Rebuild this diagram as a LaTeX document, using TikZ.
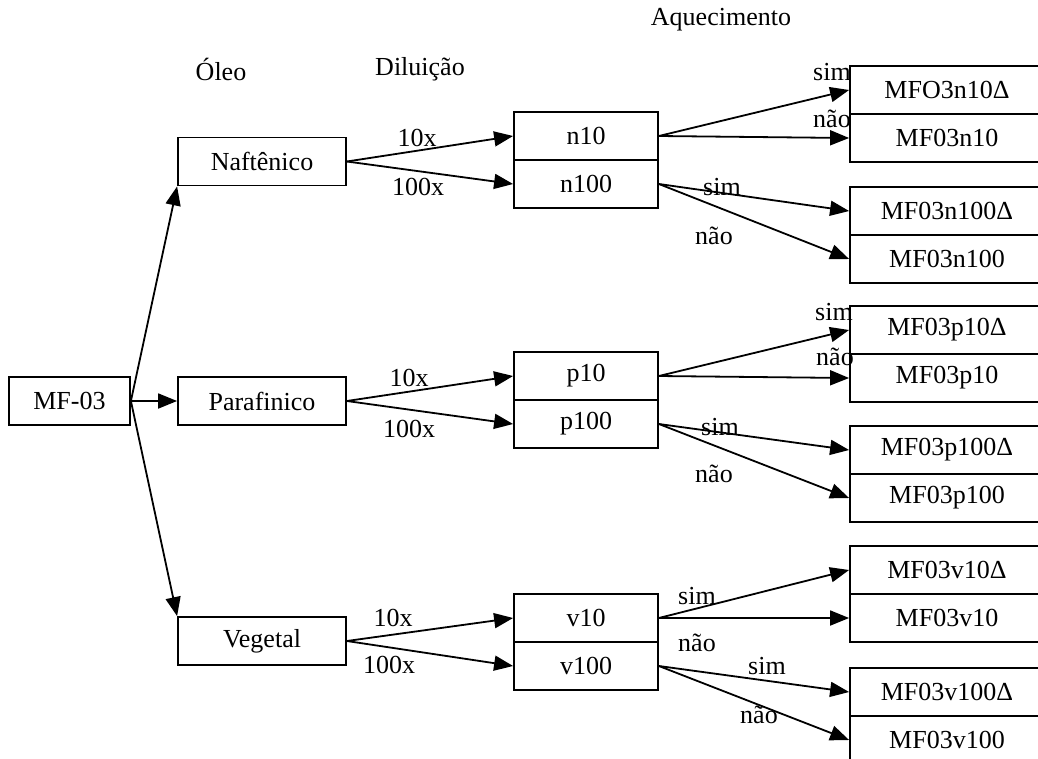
\documentclass[tikz,border=0pt]{standalone}
\usepackage{fontspec}
\setmainfont{Liberation Serif}
\usetikzlibrary{arrows.meta}
\begin{document}
\begin{tikzpicture}[x=1pt,y=-1pt,
  every node/.style={font=\fontsize{26}{30}\selectfont},
  box/.style={draw, line width=1.8pt, inner sep=0pt, minimum height=48pt},
  lbox/.style={box, minimum width=168pt},
  mbox/.style={box, minimum width=144pt},
  rbox/.style={box, minimum width=194pt},
  lbl/.style={inner sep=0pt},
  arr/.style={line width=1.8pt, -{Triangle[length=19pt,width=15pt]}}]
\useasboundingbox (0,0) rectangle (1038,758);
\clip (0,0) rectangle (1038,758);
% header labels
\node[lbl] (hOleo) at (221,69) {Óleo};
\node[lbl] (hDil) at (420,69) {Diluição};
\node[lbl] (hAq) at (721,20) {Aquecimento};
% left column
\node[box, minimum width=121pt] (mf) at (69.5,401) {MF-03};
\node[lbox] (naf) at (262,161.5) {Naftênico};
\node[lbox] (par) at (262,401) {Parafinico};
\node[lbox] (veg) at (262,641) {Vegetal};
% middle column
\node[mbox] (n10) at (586,136) {n10};
\node[mbox] (n100) at (586,184) {n100};
\node[mbox] (p10) at (586,376) {p10};
\node[mbox] (p100) at (586,424) {p100};
\node[mbox] (v10) at (586,618) {v10};
\node[mbox] (v100) at (586,666) {v100};
% right column
\node[rbox] (r1a) at (947,90) {MFO3n10Δ};
\node[rbox] (r1b) at (947,138) {MF03n10};
\node[rbox] (r2a) at (947,211) {MF03n100Δ};
\node[rbox] (r2b) at (947,259) {MF03n100};
\node[rbox] (r3a) at (947,330) {MF03p10Δ};
\node[rbox] (r3b) at (947,378) {MF03p10};
\node[rbox] (r4a) at (947,450) {MF03p100Δ};
\node[rbox] (r4b) at (947,498) {MF03p100};
\node[rbox] (r5a) at (947,570) {MF03v10Δ};
\node[rbox] (r5b) at (947,618) {MF03v10};
\node[rbox] (r6a) at (947,692) {MF03v100Δ};
\node[rbox] (r6b) at (947,740) {MF03v100};
% connectors from MF-03
\draw[arr] (mf.east) -- (naf.south west);
\draw[arr] (mf.east) -- (par.west);
\draw[arr] (mf.east) -- (veg.north west);
% dilution
\draw[arr] (naf.east) -- (n10.west);
\draw[arr] (naf.east) -- (n100.west);
\draw[arr] (par.east) -- (p10.west);
\draw[arr] (par.east) -- (p100.west);
\draw[arr] (veg.east) -- (v10.west);
\draw[arr] (veg.east) -- (v100.west);
% heating
\draw[arr] (n10.east) -- (r1a.west);
\draw[arr] (n10.east) -- (r1b.west);
\draw[arr] (n100.east) -- (r2a.west);
\draw[arr] (n100.east) -- (r2b.west);
\draw[arr] (p10.east) -- (r3a.west);
\draw[arr] (p10.east) -- (r3b.west);
\draw[arr] (p100.east) -- (r4a.west);
\draw[arr] (p100.east) -- (r4b.west);
\draw[arr] (v10.east) -- (r5a.west);
\draw[arr] (v10.east) -- (r5b.west);
\draw[arr] (v100.east) -- (r6a.west);
\draw[arr] (v100.east) -- (r6b.west);
% dilution labels
\node[lbl] (ln10) at (417,138) {10x};
\node[lbl] (ln100) at (418,187) {100x};
\node[lbl] (lp10) at (409,378) {10x};
\node[lbl] (lp100) at (409,429) {100x};
\node[lbl] (lv10) at (393,618) {10x};
\node[lbl] (lv100) at (389,665) {100x};
% heating labels
\node[lbl] (s1) at (832,72) {sim};
\node[lbl] (q1) at (832,119) {não};
\node[lbl] (s2) at (722,187) {sim};
\node[lbl] (q2) at (714,236) {não};
\node[lbl] (s3) at (834,312) {sim};
\node[lbl] (q3) at (835,357) {não};
\node[lbl] (s4) at (720,427) {sim};
\node[lbl] (q4) at (714,474) {não};
\node[lbl] (s5) at (697,596) {sim};
\node[lbl] (q5) at (697,643) {não};
\node[lbl] (s6) at (767,666) {sim};
\node[lbl] (q6) at (759,715) {não};
\end{tikzpicture}
\end{document}
